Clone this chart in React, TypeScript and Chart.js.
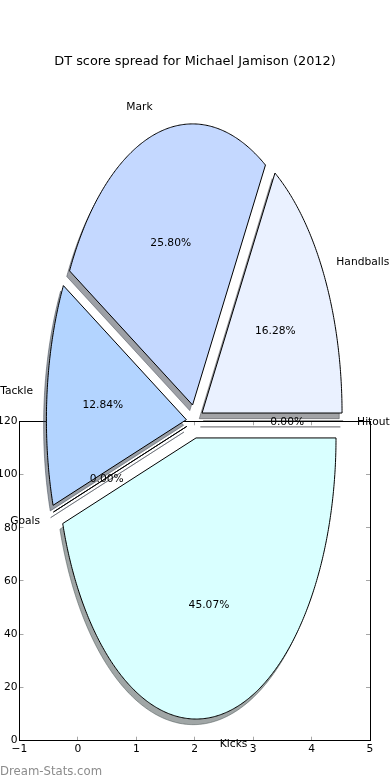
import React, { useEffect, useRef } from 'react';
import { Chart, registerables } from 'chart.js';

Chart.register(...registerables);

// ---- data ----
const sliceLabels = ['Handballs', 'Mark', 'Tackle', 'Goals', 'Kicks', 'Hitout'];
const sliceValues = [16.28, 25.8, 12.84, 0, 45.07, 0];
const sliceColors = ['#eaf1ff', '#c4d8ff', '#b3d4ff', '#d0e0ff', '#d9ffff', '#f0f0ff'];
const sliceExplode = [0.06, 0.06, 0.06, 0.06, 0.06, 0.06];
const xTickValues = [-1, 0, 1, 2, 3, 4, 5];
const yTickValues = [0, 20, 40, 60, 80, 100, 120];

const TITLE = 'DT score spread for Michael Jamison (2012)';
const WATERMARK = 'Dream-Stats.com';
const FONT = '"DejaVu Sans", Verdana, sans-serif';

// pie geometry, in the axes' data units
const PIE = { cx: 2, cy: 120, rx: 2.396, ry: 105.6, shadow: -0.02, labelDist: 1.1, pctDist: 0.6 };

const fmtTick = (v: number) => (v < 0 ? '\u2212' + Math.abs(v) : String(v));

function hexToRgb(h: string) {
  const n = parseInt(h.slice(1), 16);
  return [(n >> 16) & 255, (n >> 8) & 255, n & 255];
}

const mplPiePlugin = {
  id: 'mplPie',
  afterDraw(chart: any) {
    const ctx: CanvasRenderingContext2D = chart.ctx;
    const xs = chart.scales.x;
    const ys = chart.scales.y;
    const px = (v: number) => xs.getPixelForValue(v);
    const py = (v: number) => ys.getPixelForValue(v);
    const ca = chart.chartArea;
    const al = (v: number) => Math.round(v - 0.5) + 0.5;

    ctx.save();
    // inward ticks on all four sides
    ctx.strokeStyle = 'rgba(0,0,0,0.35)';
    ctx.lineWidth = 1;
    ctx.beginPath();
    xTickValues.forEach((t) => {
      const x = al(px(t));
      ctx.moveTo(x, ca.bottom);
      ctx.lineTo(x, ca.bottom - 4);
      ctx.moveTo(x, ca.top);
      ctx.lineTo(x, ca.top + 4);
    });
    yTickValues.forEach((t) => {
      const y = al(py(t));
      ctx.moveTo(ca.left, y);
      ctx.lineTo(ca.left + 4, y);
      ctx.moveTo(ca.right, y);
      ctx.lineTo(ca.right - 4, y);
    });
    ctx.stroke();
    // frame
    ctx.strokeStyle = '#000';
    ctx.lineWidth = 1;
    const l = al(ca.left), t = al(ca.top), r = al(ca.right), b = al(ca.bottom);
    ctx.strokeRect(l, t, r - l, b - t);

    // wedges
    const total = sliceValues.reduce((a, v) => a + v, 0);
    const fracs = sliceValues.map((v) => v / total);
    let acc = 0;
    const wedges = fracs.map((f, i) => {
      const t1 = acc;
      const t2 = acc + f * Math.PI * 2;
      acc = t2;
      const tm = (t1 + t2) / 2;
      const e = sliceExplode[i];
      return { t1, t2, tm, f, ox: PIE.cx + e * PIE.rx * Math.cos(tm), oy: PIE.cy + e * PIE.ry * Math.sin(tm) };
    });
    const wedgePath = (w: any, dx: number, dy: number) => {
      ctx.beginPath();
      ctx.moveTo(px(w.ox + dx), py(w.oy + dy));
      const n = Math.max(1, Math.ceil((w.t2 - w.t1) / (Math.PI / 360)));
      for (let k = 0; k <= n; k++) {
        const a = w.t1 + ((w.t2 - w.t1) * k) / n;
        ctx.lineTo(px(w.ox + dx + PIE.rx * Math.cos(a)), py(w.oy + dy + PIE.ry * Math.sin(a)));
      }
      ctx.closePath();
    };
    ctx.lineJoin = 'miter';
    // shadows
    wedges.forEach((w, i) => {
      const [rr, gg, bb] = hexToRgb(sliceColors[i]).map((c) => Math.round(c * 0.3));
      const col = `rgba(${rr},${gg},${bb},0.5)`;
      wedgePath(w, PIE.shadow * PIE.rx, PIE.shadow * PIE.ry);
      ctx.fillStyle = col;
      ctx.strokeStyle = col;
      ctx.lineWidth = 1;
      ctx.fill();
      ctx.stroke();
    });
    // faces
    wedges.forEach((w, i) => {
      wedgePath(w, 0, 0);
      ctx.fillStyle = sliceColors[i];
      ctx.fill();
      ctx.strokeStyle = '#000';
      ctx.lineWidth = 1;
      ctx.stroke();
    });
    // texts
    ctx.fillStyle = '#000';
    ctx.font = `10.7px ${FONT}`;
    ctx.textBaseline = 'middle';
    wedges.forEach((w, i) => {
      const xt = w.ox + PIE.labelDist * PIE.rx * Math.cos(w.tm);
      const yt = w.oy + PIE.labelDist * PIE.ry * Math.sin(w.tm);
      ctx.textAlign = xt - PIE.cx > 0 ? 'left' : 'right';
      ctx.fillText(sliceLabels[i], px(xt), py(yt) + 1);
      const xp = w.ox + PIE.pctDist * PIE.rx * Math.cos(w.tm);
      const yp = w.oy + PIE.pctDist * PIE.ry * Math.sin(w.tm);
      ctx.textAlign = 'center';
      ctx.fillText((w.f * 100).toFixed(2) + '%', px(xp), py(yp) + 1);
    });
    // watermark
    ctx.font = `11.7px ${FONT}`;
    ctx.fillStyle = '#8c8c8c';
    ctx.textAlign = 'left';
    ctx.textBaseline = 'alphabetic';
    ctx.fillText(WATERMARK, 0, 775);
    ctx.restore();
  },
};

export default function App() {
  const ref = useRef<HTMLCanvasElement | null>(null);
  useEffect(() => {
    if (!ref.current) return;
    const tickFont = { family: FONT, size: 10.7 };
    const chart = new Chart(ref.current, {
      type: 'scatter',
      data: { datasets: [{ data: [], xAxisID: 'x', yAxisID: 'y' }] },
      options: {
        responsive: false,
        animation: false,
        devicePixelRatio: 1,
        layout: { padding: 0 },
        plugins: {
          legend: { display: false },
          tooltip: { enabled: false },
          title: {
            display: true,
            text: TITLE,
            color: '#000',
            font: { family: FONT, size: 12.9, weight: 'normal', lineHeight: 1.2 },
            padding: { top: 54.2, bottom: 351.6 },
          },
        },
        scales: {
          x: {
            type: 'linear',
            position: 'bottom',
            min: -1,
            max: 5,
            afterBuildTicks: (s: any) => {
              s.ticks = xTickValues.map((v) => ({ value: v }));
            },
            grid: { display: false, drawTicks: false },
            border: { display: false },
            ticks: { color: '#000', font: tickFont, padding: 2.5, maxRotation: 0, autoSkip: false, callback: (v: any) => fmtTick(Number(v)) },
            afterFit: (s: any) => {
              s.height = 39.3;
            },
          },
          y: {
            type: 'linear',
            position: 'left',
            min: 0,
            max: 120,
            afterBuildTicks: (s: any) => {
              s.ticks = yTickValues.map((v) => ({ value: v }));
            },
            grid: { display: false, drawTicks: false },
            border: { display: false },
            ticks: { color: '#000', font: tickFont, padding: 2, autoSkip: false, callback: (v: any) => fmtTick(Number(v)) },
            afterFit: (s: any) => {
              s.width = 19.5;
            },
          },
          y2: {
            type: 'linear',
            position: 'right',
            display: true,
            grid: { display: false, drawTicks: false },
            border: { display: false },
            ticks: { display: false },
            afterFit: (s: any) => {
              s.width = 20;
            },
          },
        },
      } as any,
      plugins: [mplPiePlugin as any],
    });
    return () => chart.destroy();
  }, []);
  return (
    <div style={{ position: 'fixed', left: 0, top: 0, width: 390, height: 780, background: '#fff' }}>
      <canvas ref={ref} width={390} height={780} style={{ display: 'block', width: 390, height: 780 }} />
    </div>
  );
}
